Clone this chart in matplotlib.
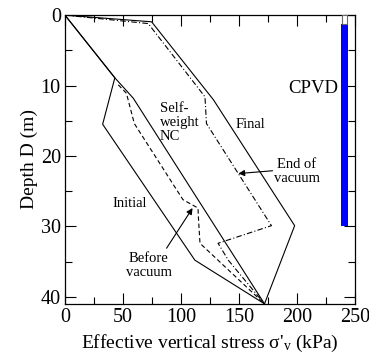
import matplotlib.pyplot as plt
from matplotlib.ticker import MultipleLocator
from matplotlib.patches import Rectangle

plt.rcParams['font.family'] = ['Liberation Serif', 'DejaVu Serif']
plt.rcParams['mathtext.fontset'] = 'custom'
plt.rcParams['mathtext.rm'] = 'Liberation Serif'
plt.rcParams['mathtext.it'] = 'Liberation Serif'

# stress (kPa) vs depth (m) profiles
initial_x = [0, 43, 32.5, 112, 172]
initial_y = [0, 8.9, 15.5, 34.8, 41]
nc_x = [0, 43, 58.9, 172]
nc_y = [0, 8.9, 11.8, 41]
before_x = [46, 53, 59.8, 101.7, 114.7, 115, 116.4, 172]
before_y = [9.9, 11.1, 15.4, 26.2, 27.4, 28.6, 32.4, 41]
end_x = [0, 71.8, 120.7, 122, 178, 132, 140.8, 172]
end_y = [0, 1.2, 11.6, 15.4, 29.9, 32.4, 34.8, 41]
final_x = [0, 74.7, 127.9, 198, 172]
final_y = [0, 0.95, 12, 29.9, 41]

# CPVD drain
cpvd_top = 1.3
cpvd_bottom = 30

fig = plt.figure(figsize=(3.69, 3.6), dpi=100)
ax = fig.add_axes([0.176, 0.156, 0.786, 0.802])

ax.plot(initial_x, initial_y, color='black', lw=0.8)
ax.plot(nc_x, nc_y, color='black', lw=0.8)
ax.plot(before_x, before_y, color='black', lw=0.8, ls=(0, (4, 2.5)))
ax.plot(end_x, end_y, color='black', lw=0.8, ls=(0, (5, 2, 1, 2)))
ax.plot(final_x, final_y, color='black', lw=0.8)

ax.add_patch(Rectangle((238, cpvd_top), 6, cpvd_bottom - cpvd_top,
                       facecolor='blue', edgecolor='none', zorder=3))
ax.add_patch(Rectangle((238.4, 0), 4.3, cpvd_top, facecolor='white',
                       edgecolor='dimgray', lw=0.8, zorder=3))

ax.text(214, 10.4, 'CPVD', fontsize=13.5, ha='center', va='center')
ax.text(82, 15.3, 'Self-\nweight\nNC', fontsize=10.5, ha='left', va='center',
        linespacing=1.1)
ax.text(160, 15.6, 'Final', fontsize=10.5, ha='center', va='center')
ax.text(200, 22.2, 'End of\nvacuum', fontsize=10.5, ha='center', va='center',
        linespacing=1.1)
ax.text(56, 26.7, 'Initial', fontsize=10.5, ha='center', va='center')
ax.text(72.4, 35.6, 'Before\nvacuum', fontsize=10.5, ha='center', va='center',
        linespacing=1.1)

arrow = dict(arrowstyle='-|>', color='black', lw=0.8, mutation_scale=9,
             shrinkA=0, shrinkB=0)
ax.annotate('', xy=(149.5, 22.5), xytext=(179, 22.1), arrowprops=arrow)
ax.annotate('', xy=(110, 27.4), xytext=(87.6, 33.1), arrowprops=arrow)

ax.set_xlim(0, 250)
ax.set_ylim(41, 0)
ax.xaxis.set_major_locator(MultipleLocator(50))
ax.xaxis.set_minor_locator(MultipleLocator(25))
ax.yaxis.set_major_locator(MultipleLocator(10))
ax.yaxis.set_minor_locator(MultipleLocator(5))
ax.tick_params(which='both', direction='in', top=True, right=True,
               labelsize=14.5, pad=3, width=0.8)
ax.tick_params(which='major', length=8)
ax.tick_params(which='minor', length=5)
for s in ax.spines.values():
    s.set_linewidth(0.9)

ax.set_xlabel("Effective vertical stress \u03c3'$_{\\rm v}$ (kPa)", fontsize=14)
ax.set_ylabel('Depth D (m)', fontsize=14, labelpad=2)

fig.savefig('out.png', dpi=100)
